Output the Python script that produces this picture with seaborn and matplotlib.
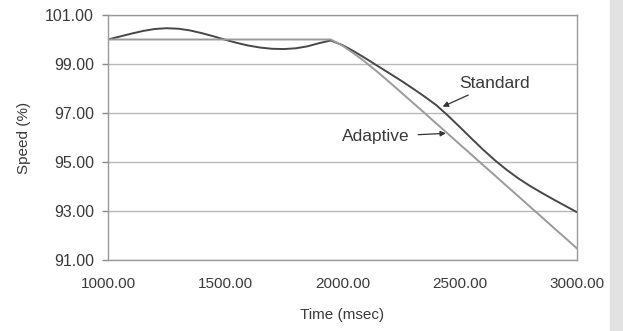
import numpy as np
import pandas as pd
import seaborn as sns
import matplotlib.pyplot as plt
from matplotlib.patches import Rectangle
from matplotlib.ticker import MultipleLocator, FormatStrFormatter

# time axis (msec)
time_ms = [1000, 1050, 1100, 1150, 1200, 1250, 1300, 1350, 1400, 1450,
           1500, 1550, 1600, 1650, 1700, 1750, 1800, 1850, 1900, 1950,
           2000, 2050, 2100, 2150, 2200, 2250, 2300, 2350, 2400, 2450,
           2500, 2550, 2600, 2650, 2700, 2750, 2800, 2850, 2900, 2950, 3000]

# speed (%)
standard = [100.00, 100.12, 100.24, 100.35, 100.43, 100.46, 100.44, 100.37, 100.26, 100.13,
            99.99, 99.86, 99.75, 99.67, 99.62, 99.61, 99.64, 99.72, 99.85, 99.96,
            99.77, 99.51, 99.22, 98.92, 98.62, 98.32, 98.00, 97.67, 97.32, 96.89,
            96.43, 95.96, 95.50, 95.07, 94.68, 94.33, 94.02, 93.74, 93.47, 93.21, 92.95]

adaptive = [100.00, 100.00, 100.00, 100.00, 100.00, 100.00, 100.00, 100.00, 100.00, 100.00,
            100.00, 100.00, 100.00, 100.00, 100.00, 100.00, 100.00, 100.00, 100.00, 100.00,
            99.75, 99.42, 99.06, 98.67, 98.26, 97.84, 97.42, 97.00, 96.57, 96.15,
            95.72, 95.30, 94.87, 94.45, 94.02, 93.60, 93.17, 92.75, 92.32, 91.90, 91.47]

series_names = ['Standard', 'Adaptive']
y_ticks = [91, 93, 95, 97, 99, 101]
x_ticks = [1000, 1500, 2000, 2500, 3000]

df = pd.DataFrame({
  'Time': time_ms * 2,
  'Speed': standard + adaptive,
  'Series': ['Standard'] * len(time_ms) + ['Adaptive'] * len(time_ms),
})

sns.set_style('white')
plt.rcParams['font.family'] = ['Liberation Sans', 'DejaVu Sans']

fig = plt.figure(figsize=(6.23, 3.31), dpi=100)
ax = fig.add_axes([108/623, 1 - 260/331, 469/623, 245/331])

grid_col = '#b8b8b8'
text_col = '#3a3a3a'

for yt in y_ticks:
  ax.axhline(yt, color=grid_col, lw=1.0, zorder=0)

sns.lineplot(data=df, x='Time', y='Speed', hue='Series', hue_order=series_names,
             palette={'Standard': '#474747', 'Adaptive': '#9a9a9a'},
             ax=ax, legend=False, lw=1.4)

ax.set_xlim(1000, 3000)
ax.set_ylim(91, 101)
ax.set_xticks(x_ticks)
ax.set_yticks(y_ticks)
ax.xaxis.set_minor_locator(MultipleLocator(50))
ax.xaxis.set_major_formatter(FormatStrFormatter('%.2f'))
ax.yaxis.set_major_formatter(FormatStrFormatter('%.2f'))

ax.tick_params(axis='x', which='major', direction='inout', length=7, width=1,
               color='#8a8a8a', labelsize=11, labelcolor=text_col, pad=9)
ax.tick_params(axis='x', which='minor', direction='inout', length=4, width=0.8,
               color='#8a8a8a')
ax.tick_params(axis='y', which='major', direction='out', length=4, width=1,
               color='#8a8a8a', labelsize=11.5, labelcolor=text_col, pad=6, left=True)

for side in ['left', 'bottom', 'right', 'top']:
  ax.spines[side].set_color('#9a9a9a')
  ax.spines[side].set_linewidth(1.0)

ax.set_xlabel('Time (msec)', fontsize=11, color=text_col)
ax.set_ylabel('Speed (%)', fontsize=11, color=text_col)
ax.xaxis.set_label_coords(0.5, -0.195)
ax.yaxis.set_label_coords(-0.165, 0.5)

ax.annotate('Standard', xy=(2427, 97.26), xytext=(2498, 98.22),
            fontsize=12.5, color=text_col, va='center', ha='left',
            arrowprops=dict(arrowstyle='-|>', color='#333333', lw=0.9,
                            mutation_scale=8, shrinkA=2, shrinkB=0))
ax.annotate('Adaptive', xy=(2441, 96.17), xytext=(2285, 96.03),
            fontsize=12.5, color=text_col, va='center', ha='right',
            arrowprops=dict(arrowstyle='-|>', color='#333333', lw=0.9,
                            mutation_scale=8, shrinkA=4, shrinkB=0))

fig.patches.append(Rectangle((610/623, 0), 13/623, 1, transform=fig.transFigure,
                             color='#e2e2e2', zorder=-1))

fig.savefig('out.png', dpi=100)
